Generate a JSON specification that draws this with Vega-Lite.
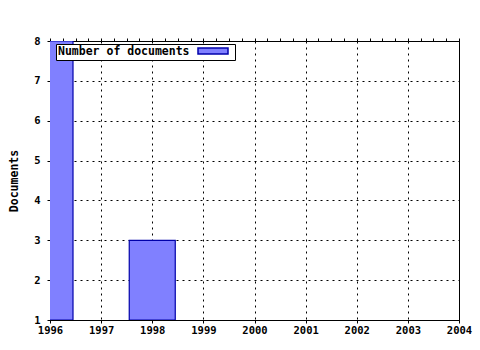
{
  "$schema": "https://vega.github.io/schema/vega-lite/v6.json",
  "autosize": "none",
  "width": 409,
  "height": 279,
  "padding": {"left": 50, "top": 41, "right": 21, "bottom": 30},
  "background": "white",
  "data": {"values": [
    {"year": 1996, "documents": 8},
    {"year": 1998, "documents": 3}
  ]},
  "layer": [
    {
      "mark": {"type": "bar", "width": 46, "clip": true, "stroke": "#0000aa", "strokeWidth": 1.2},
      "encoding": {
        "x": {
          "field": "year", "type": "quantitative",
          "scale": {"domain": [1996, 2004], "nice": false, "zero": false, "padding": 0},
          "axis": {
            "title": null,
            "values": [1996,1996.25,1996.5,1996.75,1997,1997.25,1997.5,1997.75,1998,1998.25,1998.5,1998.75,1999,1999.25,1999.5,1999.75,2000,2000.25,2000.5,2000.75,2001,2001.25,2001.5,2001.75,2002,2002.25,2002.5,2002.75,2003,2003.25,2003.5,2003.75,2004],
            "format": "d",
            "labelExpr": "datum.value % 1 === 0 ? datum.label : ''",
            "labelFont": "DejaVu Sans Mono",
            "labelFontWeight": "bold",
            "labelFontSize": 10.5,
            "labelColor": "black",
            "labelPadding": 2,
            "labelFlush": false,
            "labelOverlap": false,
            "tickColor": "black",
            "tickSize": {"condition": {"test": "datum.value % 1 === 0", "value": 3}, "value": -3},
            "domainColor": "black",
            "grid": true,
            "gridColor": "black",
            "gridDash": [2, 4],
            "gridOpacity": {"condition": {"test": "datum.value % 1 === 0", "value": 1}, "value": 0}
          }
        },
        "y": {
          "field": "documents", "type": "quantitative",
          "scale": {"domain": [1, 8], "nice": false, "zero": false},
          "axis": {
            "title": "Documents",
            "titleFont": "DejaVu Sans Mono",
            "titleFontWeight": "bold",
            "titleFontSize": 11.5,
            "titleColor": "black",
            "titlePadding": 14,
            "values": [1,2,3,4,5,6,7,8],
            "labelFont": "DejaVu Sans Mono",
            "labelFontWeight": "bold",
            "labelFontSize": 10.5,
            "labelColor": "black",
            "labelPadding": 7,
            "tickColor": "black",
            "tickSize": 3,
            "domainColor": "black",
            "grid": true,
            "gridColor": "black",
            "gridDash": [2, 4]
          }
        },
        "y2": {"datum": 1},
        "color": {
          "datum": "Number of documents",
          "scale": {"range": ["#8080ff"]},
          "legend": {
            "orient": "none",
            "legendX": 6,
            "legendY": 3,
            "title": "Number of documents",
            "titleOrient": "left",
            "titleFont": "DejaVu Sans Mono",
            "titleFontWeight": "bold",
            "titleFontSize": 11.5,
            "titleColor": "black",
            "titlePadding": 18,
            "titleBaseline": "middle",
            "labelExpr": "''",
            "labelOffset": 15,
            "symbolType": "M-5,-1H5V1H-5Z",
            "symbolSize": 36,
            "symbolStrokeColor": "#0000aa",
            "symbolStrokeWidth": 1.5,
            "strokeColor": "black",
            "fillColor": "white",
            "padding": 2
          }
        }
      }
    },
    {
      "mark": {"type": "rule", "opacity": 0},
      "encoding": {
        "x": {
          "field": "year", "type": "quantitative",
          "axis": {
            "orient": "top",
            "title": null,
            "values": [1996,1996.25,1996.5,1996.75,1997,1997.25,1997.5,1997.75,1998,1998.25,1998.5,1998.75,1999,1999.25,1999.5,1999.75,2000,2000.25,2000.5,2000.75,2001,2001.25,2001.5,2001.75,2002,2002.25,2002.5,2002.75,2003,2003.25,2003.5,2003.75,2004],
            "labels": false,
            "domain": false,
            "tickColor": "black",
            "tickSize": 3,
            "grid": false
          }
        }
      }
    }
  ],
  "resolve": {"axis": {"x": "independent"}},
  "config": {"view": {"stroke": "black", "strokeWidth": 1}}
}
